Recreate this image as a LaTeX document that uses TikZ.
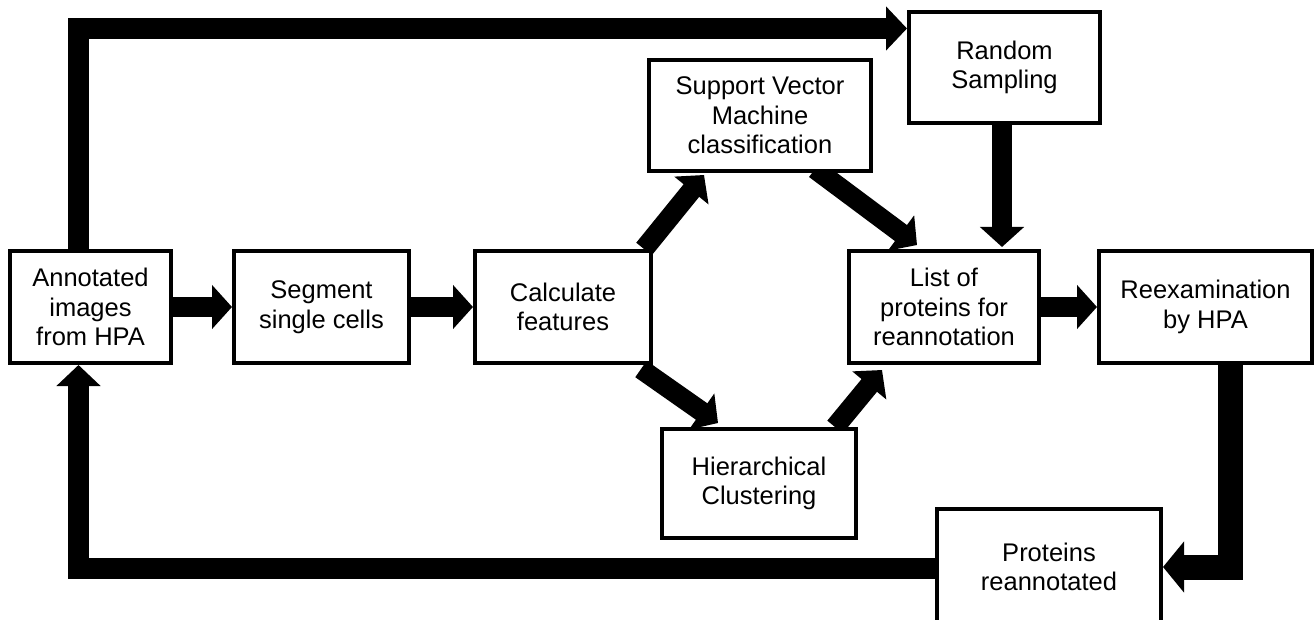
\documentclass[tikz,border=0pt]{standalone}
\usepackage{fontspec}
\setmainfont{Liberation Sans}
\usetikzlibrary{arrows.meta}
\pgfdeclarelayer{bg}
\pgfsetlayers{bg,main}
\begin{document}
\begin{tikzpicture}[x=1pt,y=1pt,
  box/.style={draw=black, fill=white, line width=4pt, align=center, inner sep=0pt,
    font=\fontsize{25.5}{29.5}\selectfont},
  arr/.style={line width=20pt, line join=miter, -{Triangle[length=20pt,width=43pt]}},
  loopline/.style={line width=21pt, line join=miter, -{Triangle[length=21pt,width=43pt]}},
  bigarr/.style={line width=25pt, line join=miter, -{Triangle[length=21pt,width=50pt]}}
]
\useasboundingbox (0,0) rectangle (1316,-620);
\node[box, minimum width=161pt, minimum height=112pt] (ann) at (90.5,-307) {Annotated\\images\\from HPA};
\node[box, minimum width=175pt, minimum height=112pt] (seg) at (321.5,-307) {Segment\\single cells};
\node[box, minimum width=176pt, minimum height=112pt] (calc) at (563,-307) {Calculate\\features};
\node[box, minimum width=222pt, minimum height=111pt] (svm) at (760,-115.5) {Support Vector\\Machine\\classification};
\node[box, minimum width=191pt, minimum height=111pt] (rand) at (1004.5,-67.5) {Random\\Sampling};
\node[box, minimum width=190pt, minimum height=112pt] (list) at (944,-307) {List of\\proteins for\\reannotation};
\node[box, minimum width=213pt, minimum height=112pt] (reex) at (1205.5,-307) {Reexamination\\by HPA};
\node[box, minimum width=194pt, minimum height=109pt] (hier) at (759,-483.5) {Hierarchical\\Clustering};
\node[box, minimum width=224pt, minimum height=116pt] (prot) at (1049,-567) {Proteins\\reannotated};
\begin{pgfonlayer}{bg}
\draw[arr] (ann.east) -- (seg.west);
\draw[arr] (seg.east) -- (calc.west);
\draw[arr] (list.east) -- (reex.west);
\draw[arr] ([xshift=-9pt]calc.north east) -- ([xshift=-56pt,yshift=-2pt]svm.south);
\draw[arr] ([xshift=55pt,yshift=4pt]svm.south) -- ([xshift=-27pt,yshift=4pt]list.north);
\draw[arr] ([xshift=-2.5pt]rand.south) -- ([xshift=58pt,yshift=2pt]list.north);
\draw[arr] ([xshift=-12pt,yshift=-4pt]calc.south east) -- ([xshift=-41pt,yshift=4pt]hier.north);
\draw[arr] ([xshift=76pt]hier.north) -- ([xshift=-62pt,yshift=-5pt]list.south);
\draw[bigarr] ([xshift=25pt]reex.south) |- (prot.east);
\draw[loopline] ([yshift=-1pt]prot.west) -| ([xshift=-12pt]ann.south);
\draw[loopline] ([xshift=-12pt]ann.north) |- ([yshift=39pt]rand.west);
\end{pgfonlayer}
\end{tikzpicture}
\end{document}
